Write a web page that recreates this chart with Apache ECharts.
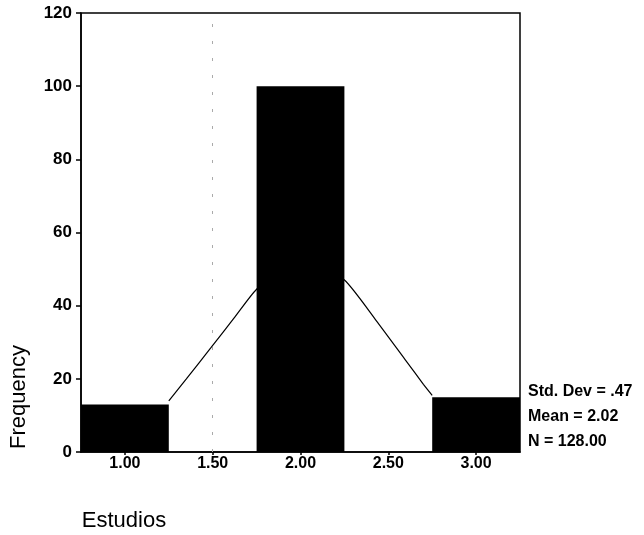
<!DOCTYPE html>
<html><head><meta charset="utf-8">
<script src="https://cdn.jsdelivr.net/npm/echarts@6/dist/echarts.min.js"></script>
<style>html,body{margin:0;padding:0;background:#fff}#c{width:644px;height:535px}</style>
</head><body><div id="c"></div>
<script>
const binCenters = [1.0, 2.0, 3.0];
const counts = [13, 100, 15];
const binWidth = 0.5;
const xTicks = [1.0, 1.5, 2.0, 2.5, 3.0];
const yTicks = [0, 20, 40, 60, 80, 100, 120];
const curveX = [1.25, 1.35, 1.49, 1.62, 1.75, 2.0, 2.25, 2.43, 2.60, 2.70, 2.75];
const curveY = [14, 20, 28.5, 36.5, 44.5, 54, 47, 36, 25, 18.5, 15.5];
const statsLines = ['Std. Dev = .47', 'Mean = 2.02', 'N = 128.00'];
const xName = 'Estudios';
const yName = 'Frequency';

const FONT = '"Liberation Sans", Arial, sans-serif';
const chart = echarts.init(document.getElementById('c'), null, {renderer: 'canvas'});

const statsGraphics = statsLines.map((t, i) => ({
  type: 'text', x: 528, y: 392 + i * 25,
  style: {text: t, font: 'bold 16px ' + FONT, fill: '#000', textAlign: 'left', textVerticalAlign: 'middle'}
}));

chart.setOption({
  animation: false,
  backgroundColor: '#fff',
  grid: {left: 81, right: 124, top: 13, bottom: 83, show: true, borderColor: '#000', borderWidth: 1.5, backgroundColor: 'transparent'},
  xAxis: {
    type: 'value', min: 0.75, max: 3.25,
    axisLine: {show: true, lineStyle: {color: '#000', width: 1.5}},
    axisTick: {show: true, length: 3, customValues: xTicks, lineStyle: {color: '#000', width: 1.5}},
    axisLabel: {customValues: xTicks, margin: 4, color: '#000', fontFamily: FONT, fontWeight: 'bold', fontSize: 16,
      formatter: v => Number(v).toFixed(2)},
    splitLine: {show: false}
  },
  yAxis: {
    type: 'value', min: yTicks[0], max: yTicks[yTicks.length - 1], interval: yTicks[1] - yTicks[0],
    axisLine: {show: true, lineStyle: {color: '#000', width: 1.5}},
    axisTick: {show: true, length: 5, lineStyle: {color: '#000', width: 1.5}},
    axisLabel: {margin: 9, color: '#000', fontFamily: FONT, fontWeight: 'bold', fontSize: 17},
    splitLine: {show: false}
  },
  graphic: [
    {type: 'text', x: 19, y: 397, rotation: Math.PI / 2,
      style: {text: yName, font: '22px ' + FONT, fill: '#000', textAlign: 'center', textVerticalAlign: 'middle'}},
    {type: 'text', x: 124, y: 521,
      style: {text: xName, font: '22px ' + FONT, fill: '#000', textAlign: 'center', textVerticalAlign: 'middle'}}
  ].concat(statsGraphics),
  series: [
    {
      type: 'line', z: 1, symbol: 'none', smooth: 0.2,
      data: curveX.map((x, i) => [x, curveY[i]]),
      lineStyle: {color: '#000', width: 1.2},
      markLine: {
        silent: true, symbol: 'none', label: {show: false},
        lineStyle: {color: '#aaa', width: 1, type: [3, 14]},
        data: [{xAxis: 1.5}]
      }
    },
    {
      type: 'custom', z: 3,
      data: binCenters.map((c, i) => [c, counts[i]]),
      encode: {x: 0, y: 1},
      renderItem: function (params, api) {
        const c = api.value(0), v = api.value(1);
        const p0 = api.coord([c - binWidth / 2, v]);
        const p1 = api.coord([c + binWidth / 2, 0]);
        return {type: 'rect', shape: {x: p0[0], y: p0[1], width: p1[0] - p0[0], height: p1[1] - p0[1]},
          style: {fill: '#000'}};
      }
    }
  ]
});
</script>
</body></html>
